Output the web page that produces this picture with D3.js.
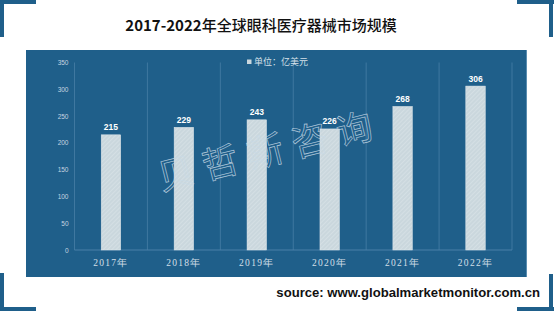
<!DOCTYPE html>
<meta charset="utf-8" />
<script src="https://d3js.org/d3.v7.min.js"></script>
<style>
    body { margin: 0; background: #fff; }
</style>
<div id="my_dataviz"></div>

<script>
    // data
    const years = ['2017年', '2018年', '2019年', '2020年', '2021年', '2022年']
    const values = [215, 229, 243, 226, 268, 306]
    const yTicks = [0, 50, 100, 150, 200, 250, 300, 350]
    const legendLabel = '单位：亿美元'
    const titleNum = '2017-2022'
    const titleText = '年全球眼科医疗器械市场规模'
    const watermark = '贝哲斯咨询'
    const source = 'source: www.globalmarketmonitor.com.cn'

    const W = 554, H = 311
    const blue = '#1f5f8a'

    const svg = d3.select('#my_dataviz')
        .append('svg')
        .attr('width', W)
        .attr('height', H)

    // hatched bar fill
    const defs = svg.append('defs')
    const pat = defs.append('pattern')
        .attr('id', 'hatch')
        .attr('patternUnits', 'userSpaceOnUse')
        .attr('width', 3).attr('height', 3)
        .attr('patternTransform', 'rotate(45)')
    pat.append('rect').attr('width', 3).attr('height', 3).attr('fill', '#cad7dd')
    pat.append('line').attr('x1', 0).attr('y1', 0).attr('x2', 0).attr('y2', 3)
        .attr('stroke', '#dbe5ea').attr('stroke-width', 1.2)

    // corner brackets
    const corners = [
        [[0, 2], [36, 2], [2, 0], [2, 37]],
        [[517, 2], [554, 2], [551, 0], [551, 37]],
        [[2, 273], [2, 311], [0, 309], [36, 309]],
        [[551, 274], [551, 311], [517, 309], [554, 309]]
    ]
    corners.forEach(c => {
        svg.append('line').attr('x1', c[0][0]).attr('y1', c[0][1]).attr('x2', c[1][0]).attr('y2', c[1][1])
            .attr('stroke', blue).attr('stroke-width', 4)
        svg.append('line').attr('x1', c[2][0]).attr('y1', c[2][1]).attr('x2', c[3][0]).attr('y2', c[3][1])
            .attr('stroke', blue).attr('stroke-width', 4)
    })

    // title
    const title = svg.append('text')
        .attr('x', 261).attr('y', 31)
        .attr('text-anchor', 'middle')
        .attr('font-family', '"Noto Sans CJK SC", sans-serif')
        .attr('font-size', '15px')
        .attr('fill', '#111')
    title.append('tspan').attr('font-weight', 'bold').text(titleNum)
    title.append('tspan').attr('font-weight', 500).text(titleText)

    // panel
    svg.append('rect')
        .attr('x', 26).attr('y', 50)
        .attr('width', 501).attr('height', 227)
        .attr('fill', blue)
    svg.append('line').attr('x1', 526.5).attr('y1', 50).attr('x2', 526.5).attr('y2', 277)
        .attr('stroke', '#5a8db0').attr('stroke-width', 1)

    // scales
    const x = d3.scaleBand().domain(years).range([74.5, 512]).paddingInner(0).paddingOuter(0)
    const y = d3.scaleLinear().domain([0, 350]).range([250, 62.5])
    const barW = 19.5

    // vertical gridlines at band boundaries
    const bounds = years.map(d => x(d)).concat([x(years[years.length - 1]) + x.bandwidth()])
    svg.append('g').selectAll('line')
        .data(bounds)
        .join('line')
        .attr('x1', d => d).attr('x2', d => d)
        .attr('y1', y(350)).attr('y2', y(0))
        .attr('stroke', '#3f78a0').attr('stroke-width', 1)

    // y axis labels
    const yAxis = svg.append('g')
        .attr('transform', 'translate(74.5,0)')
        .call(d3.axisLeft(y).tickValues(yTicks).tickSize(0).tickPadding(6))
    yAxis.select('.domain').remove()
    yAxis.selectAll('text')
        .attr('font-family', '"Liberation Sans", sans-serif')
        .attr('font-size', '6.5px')
        .attr('fill', '#c6d5e0')

    // baseline
    svg.append('line')
        .attr('x1', 74.5).attr('x2', 512)
        .attr('y1', y(0)).attr('y2', y(0))
        .attr('stroke', '#4a80a8').attr('stroke-width', 1)

    // bars
    svg.append('g').selectAll('rect')
        .data(values)
        .join('rect')
        .attr('x', (d, i) => x(years[i]) + x.bandwidth() / 2 - barW / 2)
        .attr('y', d => y(d))
        .attr('width', barW)
        .attr('height', d => y(0) - y(d))
        .attr('fill', 'url(#hatch)')
        .attr('stroke', '#dfe8ec').attr('stroke-width', 0.5)

    // value labels
    svg.append('g').selectAll('text')
        .data(values)
        .join('text')
        .attr('x', (d, i) => x(years[i]) + x.bandwidth() / 2)
        .attr('y', d => y(d) - 4.5)
        .attr('text-anchor', 'middle')
        .attr('font-family', '"Liberation Sans", sans-serif')
        .attr('font-weight', 'bold')
        .attr('font-size', '8.5px')
        .attr('fill', '#fff')
        .text(d => d)

    // x axis labels
    const xAxis = svg.append('g')
        .attr('transform', 'translate(0,' + y(0) + ')')
        .call(d3.axisBottom(x).tickSize(0).tickPadding(9))
    xAxis.select('.domain').remove()
    xAxis.selectAll('text')
        .attr('font-family', '"Liberation Serif", serif')
        .attr('font-size', '9.5px')
        .attr('letter-spacing', '1.3px')
        .attr('fill', '#d3dfe8')

    // legend
    svg.append('rect')
        .attr('x', 247).attr('y', 59.5).attr('width', 4.5).attr('height', 4.5)
        .attr('fill', '#cad7dd')
    svg.append('text')
        .attr('x', 254).attr('y', 64.5)
        .attr('font-family', '"Noto Sans CJK SC", sans-serif')
        .attr('font-size', '9px')
        .attr('fill', '#d5e0e8')
        .text(legendLabel)

    // watermark
    svg.append('text')
        .attr('transform', 'translate(273,163) rotate(-14)')
        .attr('text-anchor', 'middle')
        .attr('font-family', '"Noto Sans CJK SC", sans-serif')
        .attr('font-size', '36px')
        .attr('letter-spacing', '10px')
        .attr('fill', 'none')
        .attr('stroke', '#c9dbe7')
        .attr('stroke-width', 0.7)
        .attr('opacity', 0.85)
        .text(watermark)

    // source
    svg.append('text')
        .attr('x', 540).attr('y', 297)
        .attr('text-anchor', 'end')
        .attr('font-family', '"Liberation Sans", Arial, sans-serif')
        .attr('font-weight', 'bold')
        .attr('font-size', '13.1px')
        .attr('fill', '#111')
        .text(source)
</script>
